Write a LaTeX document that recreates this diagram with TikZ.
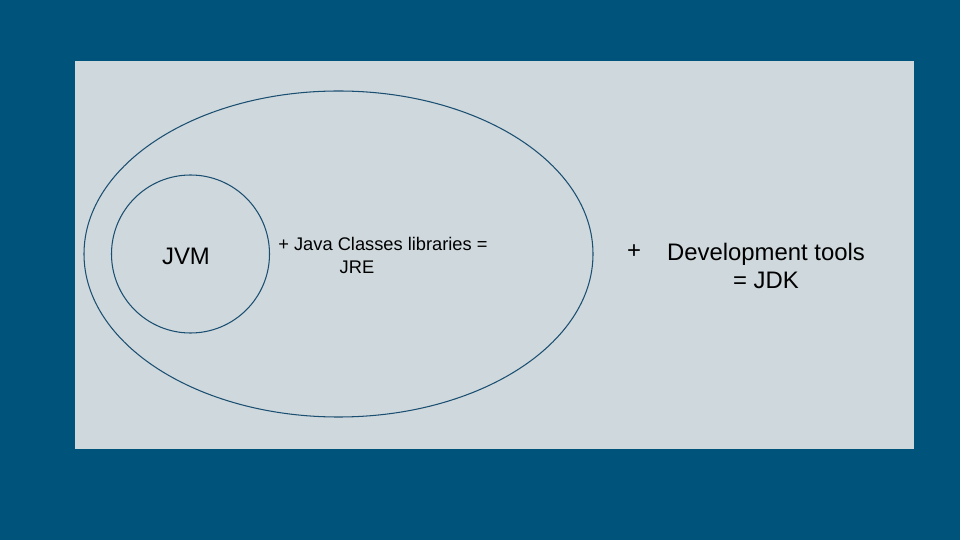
\documentclass[tikz,border=0pt]{standalone}
\usepackage{fontspec}
\setmainfont{Liberation Sans}
\usetikzlibrary{shapes.geometric}
\definecolor{bgblue}{HTML}{00537A}
\definecolor{panel}{HTML}{CFD8DC}
\definecolor{edge}{HTML}{1B4F72}
\tikzset{
  ring/.style={draw=edge, line width=0.6pt},
  big/.style={font=\fontsize{13.6}{16.4}\selectfont, inner sep=0pt},
  small/.style={font=\fontsize{10.4}{13}\selectfont, inner sep=0pt}
}
\begin{document}
\begin{tikzpicture}[x=0.02cm, y=-0.02cm]
    % Background and panel
    \fill[bgblue] (0,0) rectangle (960,540);
    \useasboundingbox (0,0) rectangle (960,540);
    \fill[panel] (75,61) rectangle (914,449);

    % JRE ellipse
    \node[ring, ellipse, minimum width=509*0.02cm, minimum height=326*0.02cm, inner sep=0pt] (jre) at (338.5,254) {};

    % JVM circle
    \node[ring, circle, minimum size=158*0.02cm, inner sep=0pt] (jvm) at (190.5,254) {};
    \node[big] (jvmlabel) at (186,256) {JVM};

    % Class libraries
    \node[small, anchor=west] (libs) at (278,244) {+ Java Classes libraries =};
    \node[small] (jrelabel) at (357,267) {JRE};

    % Development tools
    \node[big] (plus) at (634,252) {+};
    \node[big, align=center] (tools) at (766,266) {Development tools\\= JDK};
\end{tikzpicture}
\end{document}
